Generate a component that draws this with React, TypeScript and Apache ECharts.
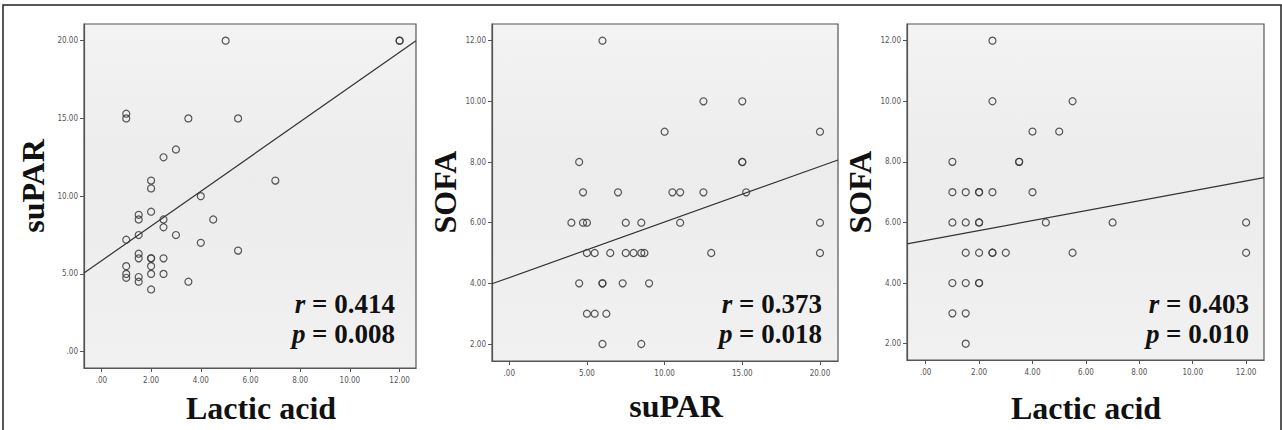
import React, { useEffect, useRef } from "react";
import * as echarts from "echarts";

// Panel 1: Lactic acid (x) vs suPAR (y)
const panel1Points: number[][] = [
  [5, 20], [12, 20], [12, 20], [1, 15.3], [1, 15], [3.5, 15], [5.5, 15], [3, 13], [2.5, 12.5],
  [2, 11], [2, 10.5], [7, 11], [4, 10], [2, 9], [1.5, 8.8], [1.5, 8.5], [2.5, 8.5], [4.5, 8.5],
  [2.5, 8], [3, 7.5], [1.5, 7.5], [1, 7.2], [4, 7], [5.5, 6.5], [1.5, 6.3], [1.5, 6], [2, 6], [2, 6],
  [2.5, 6], [1, 5.5], [2, 5.5], [1, 5], [1, 4.75], [2, 5], [2.5, 5], [1.5, 4.8], [1.5, 4.5],
  [3.5, 4.5], [2, 4],
];
// Panel 2: suPAR (x) vs SOFA (y)
const panel2Points: number[][] = [
  [6, 12], [12.5, 10], [15, 10], [10, 9], [20, 9], [4.5, 8], [15, 8], [15, 8], [4.75, 7], [7, 7],
  [10.5, 7], [11, 7], [12.5, 7], [15.25, 7], [4, 6], [4.75, 6], [5, 6], [7.5, 6], [8.5, 6], [11, 6],
  [20, 6], [5, 5], [5.5, 5], [6.5, 5], [7.5, 5], [8, 5], [8.5, 5], [8.7, 5], [13, 5], [20, 5],
  [4.5, 4], [6, 4], [6, 4], [7.3, 4], [9, 4], [5, 3], [5.5, 3], [6.25, 3], [6, 2], [8.5, 2],
];
// Panel 3: Lactic acid (x) vs SOFA (y)
const panel3Points: number[][] = [
  [2.5, 12], [2.5, 10], [5.5, 10], [4, 9], [5, 9], [1, 8], [3.5, 8], [3.5, 8], [1, 7], [1.5, 7],
  [2, 7], [2, 7], [2.5, 7], [4, 7], [1, 6], [1.5, 6], [2, 6], [2, 6], [4.5, 6], [7, 6], [12, 6],
  [1.5, 5], [2, 5], [2.5, 5], [2.5, 5], [3, 5], [5.5, 5], [12, 5], [1, 4], [1.5, 4], [2, 4], [2, 4],
  [1, 3], [1.5, 3], [1.5, 2],
];

// Fit lines (intercept, slope)
const fitIntercepts = [5.84, 4.19, 5.405];
const fitSlopes = [1.118, 0.1832, 0.1638];

// Axis ranges
const xMins = [-0.7, -1.11, -0.7];
const xMaxs = [12.66, 21.16, 12.67];
const yMins = [-1.05, 1.44, 1.46];
const yMaxs = [21.07, 12.55, 12.55];

// Tick values
const xTicks = [
  [0, 2, 4, 6, 8, 10, 12],
  [0, 5, 10, 15, 20],
  [0, 2, 4, 6, 8, 10, 12],
];
const yTicks = [
  [0, 5, 10, 15, 20],
  [2, 4, 6, 8, 10, 12],
  [2, 4, 6, 8, 10, 12],
];

const xTitles = ["Lactic acid", "suPAR", "Lactic acid"];
const yTitles = ["suPAR", "SOFA", "SOFA"];
const rTexts = ["0.414", "0.373", "0.403"];
const pTexts = ["0.008", "0.018", "0.010"];

const grids = [
  { left: 84, top: 24, width: 332, height: 344 },
  { left: 492, top: 24, width: 346, height: 337 },
  { left: 907, top: 24, width: 357, height: 336 },
];
const yTitlePos = [
  [33, 186],
  [445, 192],
  [860, 192],
];
const xTitlePos = [
  [261, 408],
  [676, 406],
  [1086, 408],
];
const annotRight = [395, 822, 1249];

const SERIF = "'Liberation Serif', 'Times New Roman', serif";

const fmt = (v: number) => (v === 0 ? ".00" : v.toFixed(2));

export default function App() {
  const ref = useRef<HTMLDivElement>(null);
  useEffect(() => {
    document.body.style.margin = "0";
    if (!ref.current) return;
    const chart = echarts.init(ref.current, undefined, { renderer: "svg" });
    const panels = [panel1Points, panel2Points, panel3Points];

    const gridOpt = grids.map((g) => ({
      left: g.left,
      top: g.top,
      width: g.height ? g.width : g.width,
      height: g.height,
      show: true,
      backgroundColor: new echarts.graphic.LinearGradient(0, 0, 0, 1, [
        { offset: 0, color: "#f3f3f3" },
        { offset: 0.45, color: "#ececec" },
        { offset: 1, color: "#f1f1f1" },
      ]),
      borderColor: "#555",
      borderWidth: 1.2,
    }));

    const axisLabelBase = {
      fontSize: 8,
      color: "#555",
      fontFamily: "'Liberation Sans Narrow', 'DejaVu Sans Condensed', Arial, sans-serif",
      formatter: (v: number) => fmt(v),
    };

    const xAxes = [0, 1, 2].map((i) => ({
      type: "value",
      gridIndex: i,
      min: xMins[i],
      max: xMaxs[i],
      axisLine: { show: true, onZero: false, lineStyle: { color: "#555", width: 1.2 } },
      axisTick: { show: true, length: 4, customValues: xTicks[i], lineStyle: { color: "#555" } },
      axisLabel: { ...axisLabelBase, margin: 8, customValues: xTicks[i] },
      splitLine: { show: false },
    }));
    const yAxes = [0, 1, 2].map((i) => ({
      type: "value",
      gridIndex: i,
      min: yMins[i],
      max: yMaxs[i],
      axisLine: { show: true, onZero: false, lineStyle: { color: "#555", width: 1.2 } },
      axisTick: { show: true, length: 4, customValues: yTicks[i], lineStyle: { color: "#555" } },
      axisLabel: { ...axisLabelBase, margin: 6, customValues: yTicks[i] },
      splitLine: { show: false },
    }));

    const series: any[] = [];
    panels.forEach((pts, i) => {
      series.push({
        type: "scatter",
        xAxisIndex: i,
        yAxisIndex: i,
        data: pts,
        symbol: "circle",
        symbolSize: 7,
        itemStyle: { color: "rgba(0,0,0,0)", borderColor: "#3a3a3a", borderWidth: 1.2, opacity: 0.85 },
        emphasis: { disabled: true },
        z: 3,
      });
      series.push({
        type: "line",
        xAxisIndex: i,
        yAxisIndex: i,
        data: [
          [xMins[i], fitIntercepts[i] + fitSlopes[i] * xMins[i]],
          [xMaxs[i], fitIntercepts[i] + fitSlopes[i] * xMaxs[i]],
        ],
        symbol: "none",
        lineStyle: { color: "#333", width: 1.2 },
        emphasis: { disabled: true },
        z: 2,
      });
    });

    const graphics: any[] = [
      {
        type: "rect",
        shape: { x: 3, y: 5, width: 1278, height: 440 },
        style: { fill: "none", stroke: "#222", lineWidth: 1.5 },
        silent: true,
      },
    ];
    for (let i = 0; i < 3; i++) {
      graphics.push({
        type: "text",
        x: yTitlePos[i][0],
        y: yTitlePos[i][1],
        rotation: Math.PI / 2,
        style: {
          text: yTitles[i],
          fontFamily: SERIF,
          fontWeight: "bold",
          fontSize: 32,
          fill: "#111",
          align: "center",
          verticalAlign: "middle",
        },
      });
      graphics.push({
        type: "text",
        x: xTitlePos[i][0],
        y: xTitlePos[i][1],
        style: {
          text: xTitles[i],
          fontFamily: SERIF,
          fontWeight: "bold",
          fontSize: 32,
          fill: "#111",
          align: "center",
          verticalAlign: "middle",
        },
      });
      graphics.push({
        type: "text",
        x: annotRight[i],
        y: 304,
        style: {
          text: "{i|r} = " + rTexts[i],
          fontFamily: SERIF,
          fontWeight: "bold",
          fontSize: 27,
          fill: "#111",
          align: "right",
          verticalAlign: "middle",
          rich: { i: { fontFamily: SERIF, fontWeight: "bold", fontStyle: "italic", fontSize: 27, fill: "#111" } },
        },
      });
      graphics.push({
        type: "text",
        x: annotRight[i],
        y: 334,
        style: {
          text: "{i|p} = " + pTexts[i],
          fontFamily: SERIF,
          fontWeight: "bold",
          fontSize: 27,
          fill: "#111",
          align: "right",
          verticalAlign: "middle",
          rich: { i: { fontFamily: SERIF, fontWeight: "bold", fontStyle: "italic", fontSize: 27, fill: "#111" } },
        },
      });
    }

    chart.setOption({
      animation: false,
      backgroundColor: "#fff",
      grid: gridOpt,
      xAxis: xAxes,
      yAxis: yAxes,
      series,
      graphic: graphics,
    });
    return () => chart.dispose();
  }, []);
  return <div ref={ref} style={{ width: 1282, height: 430 }} />;
}
